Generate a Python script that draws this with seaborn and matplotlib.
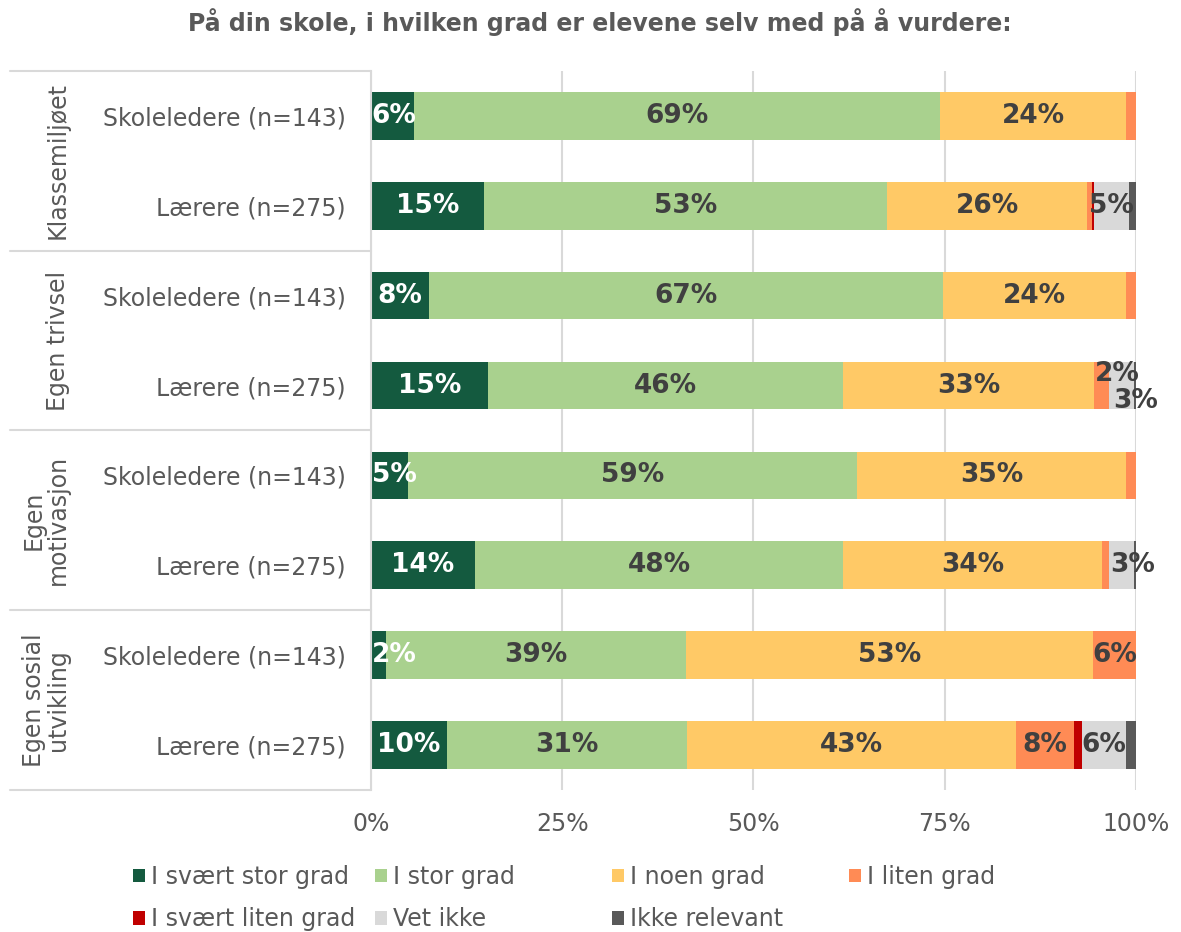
import numpy as np
import pandas as pd
import matplotlib
matplotlib.use("Agg")
import matplotlib.pyplot as plt
from matplotlib.patches import Patch
import seaborn as sns

# --- data (percent per row) ---
groups = ["Klassemiljøet", "Egen trivsel", "Egen\nmotivasjon", "Egen sosial\nutvikling"]
respondents = ["Skoleledere (n=143)", "Lærere (n=275)"]

series_names = ["I svært stor grad", "I stor grad", "I noen grad", "I liten grad",
                "I svært liten grad", "Vet ikke", "Ikke relevant"]
svaert_stor = [5.6, 14.8, 7.6, 15.3, 4.8, 13.6, 2.0, 9.9]
stor = [68.8, 52.7, 67.2, 46.4, 58.7, 48.1, 39.2, 31.4]
noen = [24.3, 26.1, 23.9, 32.8, 35.2, 33.9, 53.2, 43.0]
liten = [1.3, 0.6, 1.3, 2.0, 1.3, 0.9, 5.6, 7.6]
svaert_liten = [0.0, 0.3, 0.0, 0.0, 0.0, 0.0, 0.0, 1.0]
vet_ikke = [0.0, 4.6, 0.0, 3.3, 0.0, 3.3, 0.0, 5.8]
ikke_relevant = [0.0, 0.9, 0.0, 0.2, 0.0, 0.2, 0.0, 1.3]

colors = ["#145A3F", "#A9D18E", "#FFC966", "#FF8B55", "#C00000", "#D9D9D9", "#595959"]
text_grey = "#595959"
line_grey = "#D9D9D9"

rows = [f"{g}|{r}" for g in groups for r in respondents]
values = [svaert_stor, stor, noen, liten, svaert_liten, vet_ikke, ikke_relevant]
df = pd.DataFrame({name: vals for name, vals in zip(series_names, values)})
df["row"] = rows
cum = df[series_names].cumsum(axis=1)
for name in series_names:
    df["cum_" + name] = cum[name]

sns.set_theme(style="white")
plt.rcParams["font.family"] = ["DejaVu Sans"]

fig = plt.figure(figsize=(11.81, 9.32), dpi=100)
ax = fig.add_axes([0.3141, 0.1524, 0.6478, 0.7715])

# stacked bars: draw cumulative totals from the outermost inward
for name, color in reversed(list(zip(series_names, colors))):
    sns.barplot(data=df, x="cum_" + name, y="row", order=rows, orient="h",
                color=color, saturation=1, width=0.53, linewidth=0, ax=ax)

# value labels (only segments big enough to show)
nudges = {(3, "I liten grad"): (11, 8), (3, "Vet ikke"): (10, -11),
          (5, "Vet ikke"): (8, 0)}
for i in range(len(rows)):
    for j, name in enumerate(series_names):
        v = df.loc[i, name]
        if v < 1.5:
            continue
        mid = df.loc[i, "cum_" + name] - v / 2
        col = "white" if j == 0 else "#404040"
        ha = "center"
        if j == 0 and mid < 3.5:
            # keep narrow first-segment labels inside the plot area
            mid, ha = 0.1, "left"
        ax.annotate(f"{v:.0f}%", (mid, i), xytext=nudges.get((i, name), (0, 0)),
                    textcoords="offset points", ha=ha, va="center",
                    fontsize=19, fontweight="bold", color=col)

ax.set_xlim(0, 100)
ax.set_ylim(len(rows) - 0.5, -0.5)
ax.set_xticks([0, 25, 50, 75, 100])
ax.set_xticklabels([f"{t}%" for t in [0, 25, 50, 75, 100]])
ax.set_yticks(range(len(rows)))
ax.set_yticklabels([r.split("|")[1] for r in rows])
ax.set_xlabel("")
ax.set_ylabel("")
ax.tick_params(axis="x", length=0, pad=16, labelsize=17, labelcolor=text_grey)
ax.tick_params(axis="y", length=0, pad=18, labelsize=17, labelcolor=text_grey)
ax.grid(axis="x", color=line_grey, linewidth=1.5)
ax.grid(axis="y", visible=False)
ax.set_axisbelow(True)
for side in ["top", "right", "bottom"]:
    ax.spines[side].set_visible(False)
ax.spines["left"].set_color(line_grey)
ax.spines["left"].set_linewidth(1.5)

# group separators and group labels on the left
ytr = ax.get_yaxis_transform()
for b in np.arange(-0.5, len(rows), 2):
    ax.plot([-0.472, 0], [b, b], color=line_grey, linewidth=1.5,
            transform=ytr, clip_on=False)
for k, g in enumerate(groups):
    ax.text(-0.3935, 2 * k + 0.5, g, transform=ytr, rotation=90, ha="right",
            va="center", multialignment="center", fontsize=17, color=text_grey,
            linespacing=1.0)

fig.text(0.508, 0.976, "På din skole, i hvilken grad er elevene selv med på å vurdere:",
         ha="center", va="center", fontsize=17, fontweight="bold", color=text_grey)

# legend: four fixed-width columns like the original
handles = [Patch(facecolor=c, edgecolor="none", label=n) for n, c in zip(series_names, colors)]
col_x = [133, 375, 612, 849]
for c, x in enumerate(col_x):
    hs = handles[c::4]
    fig.legend(handles=hs, loc="upper left", bbox_to_anchor=(x / 1181, 1 - 865 / 932),
               frameon=False, fontsize=17, labelcolor=text_grey, handlelength=0.5,
               handleheight=0.5, handletextpad=0.25, borderpad=0, borderaxespad=0,
               labelspacing=0.77)

fig.savefig("out.png", dpi=100)
